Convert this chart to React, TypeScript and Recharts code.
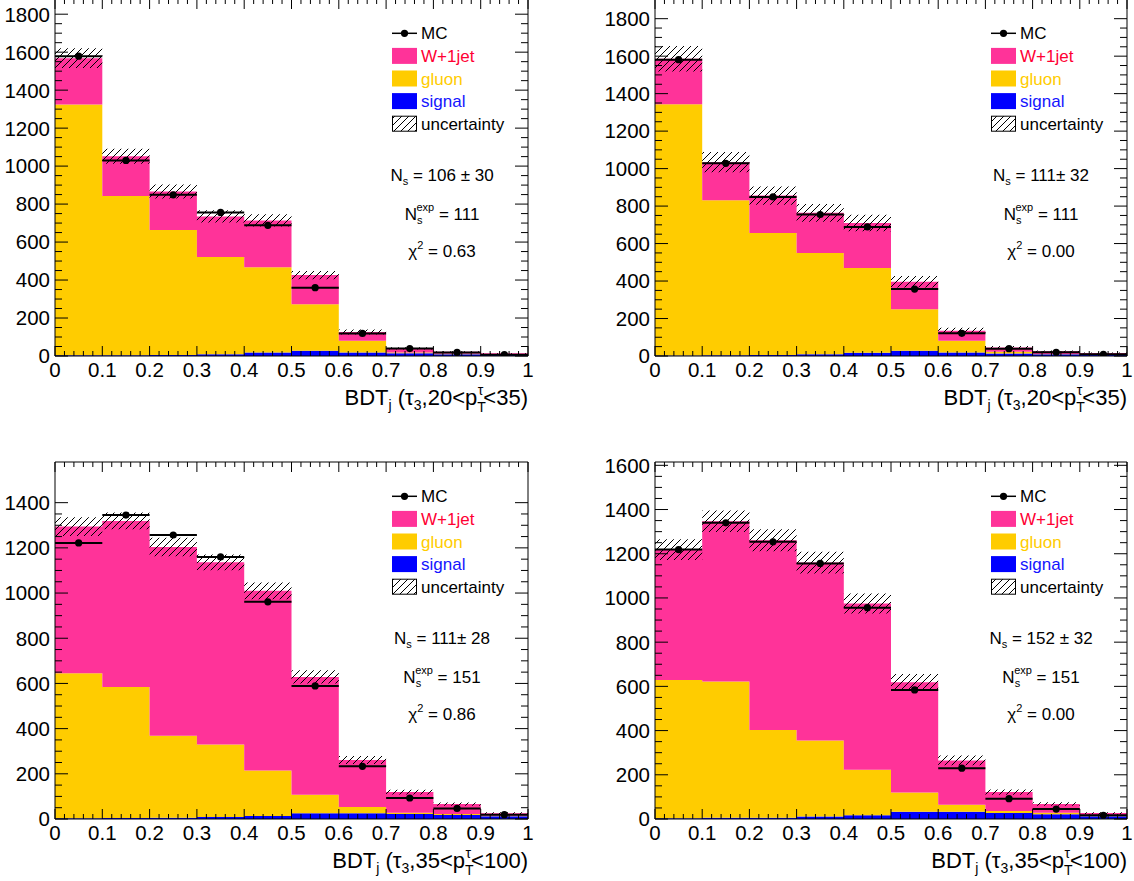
import React from 'react';
import { ComposedChart, Area, Scatter, ErrorBar, XAxis, YAxis } from 'recharts';

// ---------- shared binning / axis values ----------
const binEdges = [0, 0.1, 0.2, 0.3, 0.4, 0.5, 0.6, 0.7, 0.8, 0.9, 1.0];
const binCenters = [0.05, 0.15, 0.25, 0.35, 0.45, 0.55, 0.65, 0.75, 0.85, 0.95];
const binHalfWidth = 0.05;
const xMajorTicks = [0, 0.1, 0.2, 0.3, 0.4, 0.5, 0.6, 0.7, 0.8, 0.9, 1];
const xTickLabels = ['0', '0.1', '0.2', '0.3', '0.4', '0.5', '0.6', '0.7', '0.8', '0.9', '1'];
const xMinorPerMajor = 5;
const yMinorPerMajor = 4;

const yMajorTop = [0, 200, 400, 600, 800, 1000, 1200, 1400, 1600, 1800];
const yMajorBL = [0, 200, 400, 600, 800, 1000, 1200, 1400];
const yMajorBR = [0, 200, 400, 600, 800, 1000, 1200, 1400, 1600];

// ---------- panel 1 : tau3, 20<pT<35 (fit) ----------
const signal1 = [4, 4, 5, 9, 18, 28, 19, 14, 9, 5];
const gluon1 = [1320, 838, 658, 512, 449, 244, 61, 5, 3, 2];
const wjet1 = [244, 210, 203, 214, 247, 154, 46, 21, 10, 7];
const unc1 = [52, 39, 37, 32, 32, 22, 13, 6, 3, 2];
const mc1 = [1579, 1030, 849, 756, 688, 360, 119, 39, 19, 7];

// ---------- panel 2 : tau3, 20<pT<35 (expected) ----------
const signal2 = [3, 4, 5, 9, 18, 28, 19, 14, 9, 5];
const gluon2 = [1341, 827, 652, 540, 451, 222, 63, 9, 2, 2];
const wjet2 = [242, 203, 199, 215, 241, 146, 53, 22, 14, 9];
const unc2 = [68, 54, 49, 47, 44, 31, 16, 8, 4, 3];
const mc2 = [1581, 1028, 849, 755, 689, 357, 121, 39, 20, 9];

// ---------- panel 3 : tau3, 35<pT<100 (fit) ----------
const signal3 = [3, 4, 5, 9, 13, 25, 26, 22, 18, 12];
const gluon3 = [642, 580, 363, 321, 202, 82, 27, 6, 4, 2];
const wjet3 = [649, 735, 836, 806, 795, 522, 208, 91, 44, 12];
const unc3 = [42, 37, 41, 35, 37, 29, 18, 11, 7, 4];
const mc3 = [1222, 1345, 1257, 1160, 961, 589, 233, 93, 47, 19];

// ---------- panel 4 : tau3, 35<pT<100 (expected) ----------
const signal4 = [3, 6, 6, 11, 17, 33, 33, 27, 21, 12];
const gluon4 = [626, 616, 397, 344, 206, 87, 32, 9, 7, 3];
const wjet4 = [590, 725, 858, 805, 752, 499, 200, 86, 40, 12];
const unc4 = [47, 49, 50, 49, 45, 37, 22, 12, 8, 4];
const mc4 = [1219, 1340, 1254, 1156, 956, 584, 230, 92, 45, 17];

// ---------- text ----------
const legendLabels = ['MC', 'W+1jet', 'gluon', 'signal', 'uncertainty'];
const nsTexts = ['106 ± 30', '111± 32', '111± 28', '152 ± 32'];
const nsExpTexts = ['111', '111', '151', '151'];
const chi2Texts = ['0.63', '0.00', '0.86', '0.00'];
const ptRanges = [['20', '35'], ['20', '35'], ['35', '100'], ['35', '100']];

const COL_W = '#ff3399';
const COL_G = '#ffcc00';
const COL_S = '#0000ff';
const TXT_W = '#ff0033';
const TXT_G = '#ffcc00';
const TXT_S = '#1414ff';
const FONT = '"Liberation Sans", Arial, Helvetica, sans-serif';

function minorTicks(majors: number[], n: number) {
  const out: number[] = [];
  for (let i = 0; i < majors.length - 1; i++) {
    const step = (majors[i + 1] - majors[i]) / n;
    out.push(majors[i]);
    for (let k = 1; k < n; k++) out.push(+(majors[i] + k * step).toFixed(6));
  }
  out.push(majors[majors.length - 1]);
  return out;
}

function majorIndex(majors: number[], v: number) {
  return majors.findIndex((m) => Math.abs(m - v) < 1e-7);
}

function buildRows(signal: number[], gluon: number[], wjet: number[], unc: number[]) {
  return binEdges.map((x, i) => {
    const j = Math.min(i, signal.length - 1);
    const total = signal[j] + gluon[j] + wjet[j];
    return { x, signal: signal[j], gluon: gluon[j], wjet: wjet[j], band: [total - unc[j], total + unc[j]] };
  });
}

function buildMc(mc: number[]) {
  return binCenters.map((x, i) => ({ x, mc: mc[i], ex: binHalfWidth }));
}

type PanelProps = {
  left: number; top: number; width: number; height: number;
  margin: { top: number; right: number; bottom: number; left: number };
  yMax: number; yMajors: number[];
  signal: number[]; gluon: number[]; wjet: number[]; unc: number[]; mc: number[];
};

function Panel(p: PanelProps) {
  const rows = buildRows(p.signal, p.gluon, p.wjet, p.unc);
  const mcRows = buildMc(p.mc);
  const xTicks = minorTicks(xMajorTicks, xMinorPerMajor);
  const yTicks = minorTicks(p.yMajors, yMinorPerMajor);

  const bottomTick = (t: any) => {
    const idx = majorIndex(xMajorTicks, t.payload.value);
    const major = idx >= 0;
    return (
      <g>
        <line x1={t.x} y1={t.y} x2={t.x} y2={t.y - (major ? 10 : 5)} stroke="#000" strokeWidth={1} />
        {major && (
          <text x={t.x} y={t.y + 21} textAnchor="middle" fontSize={20.5} fontFamily={FONT} fill="#000">
            {xTickLabels[idx]}
          </text>
        )}
      </g>
    );
  };
  const topTick = (t: any) => {
    const major = majorIndex(xMajorTicks, t.payload.value) >= 0;
    return <line x1={t.x} y1={t.y} x2={t.x} y2={t.y + (major ? 10 : 5)} stroke="#000" strokeWidth={1} />;
  };
  const leftTick = (t: any) => {
    const major = majorIndex(p.yMajors, t.payload.value) >= 0;
    return (
      <g>
        <line x1={t.x} y1={t.y} x2={t.x + (major ? 13 : 7)} y2={t.y} stroke="#000" strokeWidth={1} />
        {major && (
          <text x={t.x - 5} y={t.y} dy="0.36em" textAnchor="end" fontSize={20.5} fontFamily={FONT} fill="#000">
            {String(t.payload.value)}
          </text>
        )}
      </g>
    );
  };
  const rightTick = (t: any) => {
    const major = majorIndex(p.yMajors, t.payload.value) >= 0;
    return <line x1={t.x} y1={t.y} x2={t.x - (major ? 13 : 7)} y2={t.y} stroke="#000" strokeWidth={1} />;
  };

  return (
    <div style={{ position: 'absolute', left: p.left, top: p.top, width: p.width, height: p.height }}>
      <ComposedChart width={p.width} height={p.height} data={rows} margin={p.margin}>
        <Area type="stepAfter" dataKey="signal" stackId="stack" fill={COL_S} fillOpacity={1} stroke="none" isAnimationActive={false} dot={false} activeDot={false} />
        <Area type="stepAfter" dataKey="gluon" stackId="stack" fill={COL_G} fillOpacity={1} stroke="none" isAnimationActive={false} dot={false} activeDot={false} />
        <Area type="stepAfter" dataKey="wjet" stackId="stack" fill={COL_W} fillOpacity={1} stroke="none" isAnimationActive={false} dot={false} activeDot={false} />
        <Area type="stepAfter" dataKey="band" fill="url(#hatchPat)" fillOpacity={1} stroke="none" isAnimationActive={false} dot={false} activeDot={false} />
        <Scatter data={mcRows} dataKey="mc" fill="#000" isAnimationActive={false}
          shape={(s: any) => <circle cx={s.cx} cy={s.cy} r={3.6} fill="#000" />}>
          <ErrorBar dataKey="ex" direction="x" width={0} stroke="#000" strokeWidth={2} />
        </Scatter>
        <XAxis dataKey="x" type="number" domain={[0, 1]} ticks={xTicks} interval={0} height={1}
          tickSize={0} tickMargin={0} tick={bottomTick} axisLine={{ stroke: '#000', strokeWidth: 1 }} tickLine={false} allowDataOverflow />
        <XAxis xAxisId="top" orientation="top" dataKey="x" type="number" domain={[0, 1]} ticks={xTicks} interval={0} height={1}
          tickSize={0} tickMargin={0} tick={topTick} axisLine={{ stroke: '#000', strokeWidth: 1 }} tickLine={false} allowDataOverflow />
        <YAxis type="number" domain={[0, p.yMax]} ticks={yTicks} interval={0} width={1}
          tickSize={0} tickMargin={0} tick={leftTick} axisLine={{ stroke: '#000', strokeWidth: 1 }} tickLine={false} allowDataOverflow />
        <YAxis yAxisId="right" orientation="right" type="number" domain={[0, p.yMax]} ticks={yTicks} interval={0} width={1}
          tickSize={0} tickMargin={0} tick={rightTick} axisLine={{ stroke: '#000', strokeWidth: 1 }} tickLine={false} allowDataOverflow />
      </ComposedChart>
    </div>
  );
}

function Annotations({ fr, ft, fb, idx }: { fr: number; ft: number; fb: number; idx: number }) {
  const bx = fr - 136;
  const rowY = (i: number) => ft + 34.3 + i * 22.6;
  const colors = ['#000', TXT_W, TXT_G, TXT_S, '#000'];
  const sx = fr - 86;
  const [lo, hi] = ptRanges[idx];
  return (
    <g fontFamily={FONT}>
      {/* legend */}
      <line x1={bx} y1={rowY(0)} x2={bx + 25} y2={rowY(0)} stroke="#000" strokeWidth={1.5} />
      <circle cx={bx + 12.5} cy={rowY(0)} r={3.6} fill="#000" />
      <rect x={bx} y={rowY(1) - 8} width={25} height={16} fill={COL_W} />
      <rect x={bx} y={rowY(2) - 8} width={25} height={16} fill={COL_G} />
      <rect x={bx} y={rowY(3) - 8} width={25} height={16} fill={COL_S} />
      <rect x={bx + 0.5} y={rowY(4) - 7.5} width={24} height={15} fill="url(#hatchPat)" stroke="#000" strokeWidth={1} />
      {legendLabels.map((l, i) => (
        <text key={l} x={bx + 29} y={rowY(i)} dy="0.36em" fontSize={17} fill={colors[i]}>{l}</text>
      ))}
      {/* stats */}
      <text x={sx} y={ft + 182} textAnchor="middle" fontSize={17} fill="#000">
        N<tspan fontSize={11} dy={4}>s</tspan><tspan dy={-4}>{' = ' + nsTexts[idx]}</tspan>
      </text>
      <text x={sx} y={ft + 221} textAnchor="middle" fontSize={17} fill="#000">
        N<tspan fontSize={11} dy={4}>s</tspan><tspan fontSize={11} dx={-6} dy={-13}>exp</tspan><tspan dy={9}>{' = ' + nsExpTexts[idx]}</tspan>
      </text>
      <text x={sx} y={ft + 258} textAnchor="middle" fontSize={17} fill="#000">
        χ<tspan fontSize={11} dy={-8}>2</tspan><tspan dy={8}>{' = ' + chi2Texts[idx]}</tspan>
      </text>
      {/* x-axis title */}
      <text x={fr} y={fb + 49} textAnchor="end" fontSize={22} fill="#000">
        BDT<tspan fontSize={14} dy={5}>j</tspan><tspan dy={-5}> (τ</tspan><tspan fontSize={14} dy={5}>3</tspan>
        <tspan dy={-5}>{',' + lo + '<p'}</tspan><tspan fontSize={14} dy={7}>T</tspan><tspan fontSize={14} dx={-8} dy={-17}>τ</tspan>
        <tspan dy={10}>{'<' + hi + ')'}</tspan>
      </text>
    </g>
  );
}

export default function App() {
  const mTop = { top: 8, bottom: 63 };
  const mBot = { top: 9, bottom: 62 };
  return (
    <div style={{ position: 'absolute', left: 0, top: 0, width: 1134, height: 881, overflow: 'hidden', background: '#fff' }}>
      <svg width={0} height={0} style={{ position: 'absolute' }}>
        <defs>
          <pattern id="hatchPat" patternUnits="userSpaceOnUse" width={7} height={7}>
            <path d="M-1,1 l2,-2 M0,7 l7,-7 M6,8 l2,-2" stroke="#000" strokeWidth={1} />
          </pattern>
        </defs>
      </svg>
      <Panel left={0} top={-10} width={560} height={430} margin={{ ...mTop, left: 54, right: 31 }}
        yMax={1880} yMajors={yMajorTop} signal={signal1} gluon={gluon1} wjet={wjet1} unc={unc1} mc={mc1} />
      <Panel left={600} top={-10} width={534} height={430} margin={{ ...mTop, left: 54, right: 6 }}
        yMax={1905} yMajors={yMajorTop} signal={signal2} gluon={gluon2} wjet={wjet2} unc={unc2} mc={mc2} />
      <Panel left={0} top={452} width={560} height={430} margin={{ ...mBot, left: 54, right: 31 }}
        yMax={1580} yMajors={yMajorBL} signal={signal3} gluon={gluon3} wjet={wjet3} unc={unc3} mc={mc3} />
      <Panel left={600} top={452} width={534} height={430} margin={{ ...mBot, left: 54, right: 6 }}
        yMax={1615} yMajors={yMajorBR} signal={signal4} gluon={gluon4} wjet={wjet4} unc={unc4} mc={mc4} />
      <svg width={1134} height={881} style={{ position: 'absolute', left: 0, top: 0, pointerEvents: 'none' }}>
        <Annotations fr={528} ft={-1} fb={356} idx={0} />
        <Annotations fr={1127} ft={-1} fb={356} idx={1} />
        <Annotations fr={528} ft={462} fb={819} idx={2} />
        <Annotations fr={1127} ft={462} fb={819} idx={3} />
      </svg>
    </div>
  );
}
